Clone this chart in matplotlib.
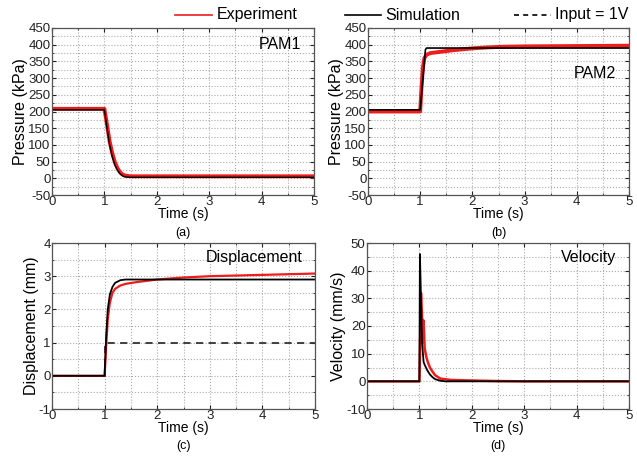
import matplotlib
matplotlib.use("Agg")
import matplotlib.pyplot as plt
import numpy as np
from matplotlib.lines import Line2D
from matplotlib.ticker import MultipleLocator

plt.rcParams['font.family'] = ['Liberation Sans', 'DejaVu Sans']
plt.rcParams['axes.unicode_minus'] = False

# ---- data ----
pam1_exp_t = [0, 1.0, 1.05, 1.1, 1.15, 1.2, 1.25, 1.3, 1.35, 1.4, 1.5, 2, 3, 4, 5]
pam1_exp_p = [208, 208, 160, 110, 75, 48, 30, 18, 11, 8, 6, 6, 6, 6, 6]
pam1_sim_t = [0, 1.0, 1.05, 1.1, 1.15, 1.2, 1.25, 1.3, 1.35, 1.4, 1.5, 2, 3, 4, 5]
pam1_sim_p = [205, 205, 150, 100, 65, 40, 24, 13, 7, 4, 3, 3, 3, 3, 3]

pam2_exp_t = [0, 1.0, 1.02, 1.05, 1.08, 1.12, 1.2, 1.4, 1.6, 1.8, 2.0, 2.3, 2.6, 3, 4, 5]
pam2_exp_p = [200, 200, 260, 330, 360, 370, 375, 379, 383, 386, 389, 392, 394, 395, 396, 397]
pam2_sim_t = [0, 1.0, 1.1, 1.12, 5]
pam2_sim_p = [205, 205, 385, 390, 390]

disp_exp_t = [0, 1.0, 1.03, 1.06, 1.1, 1.15, 1.2, 1.3, 1.4, 1.6, 1.8, 2.0, 2.5, 3, 4, 5]
disp_exp_x = [0, 0, 0.9, 1.7, 2.2, 2.5, 2.62, 2.72, 2.77, 2.82, 2.86, 2.9, 2.96, 3.0, 3.04, 3.08]
disp_sim_t = [0, 1.0, 1.03, 1.06, 1.1, 1.15, 1.2, 1.3, 1.4, 1.5, 2, 3, 4, 5]
disp_sim_x = [0, 0, 1.2, 2.0, 2.45, 2.68, 2.8, 2.88, 2.9, 2.9, 2.9, 2.9, 2.9, 2.9]
input_t = [0, 1.0, 1.0, 5]
input_x = [0, 0, 1, 1]

vel_exp_t = [0, 1.0, 1.02, 1.03, 1.05, 1.07, 1.08, 1.1, 1.13, 1.16, 1.2, 1.25, 1.3, 1.4, 1.6, 2.0, 2.5, 3, 5]
vel_exp_v = [0, 0, 20, 32, 24, 14, 22, 12, 9, 7, 5, 3.5, 2.2, 1.0, 0.5, 0.3, 0.1, 0, 0]
vel_sim_t = [0, 1.0, 1.01, 1.03, 1.05, 1.08, 1.1, 1.15, 1.2, 1.25, 1.3, 1.4, 1.5, 2, 5]
vel_sim_v = [0, 0, 46, 30, 14, 7, 6, 4, 2.5, 1.5, 0.8, 0.2, 0, 0, 0]

legend_labels = ['Experiment', 'Simulation', 'Input = 1V']

red = '#ee1c1c'
fig = plt.figure(figsize=(6.37, 4.57), dpi=100)
W, H = 637, 457

def make_ax(l, r, t, b):
    return fig.add_axes([l / W, 1 - b / H, (r - l) / W, (b - t) / H])

axes = [make_ax(52, 314, 28, 195), make_ax(368, 629, 28, 195),
        make_ax(52, 315, 243, 409), make_ax(367, 629, 243, 409)]

def style(ax, ylim, ymaj, ymin, ylabel, title, ty, sub):
    ax.set_xlim(0, 5)
    ax.set_ylim(*ylim)
    ax.xaxis.set_major_locator(MultipleLocator(1))
    ax.xaxis.set_minor_locator(MultipleLocator(0.5))
    ax.yaxis.set_major_locator(MultipleLocator(ymaj))
    ax.yaxis.set_minor_locator(MultipleLocator(ymin))
    ax.grid(True, which='both', linestyle=':', color='#aaaaaa', linewidth=0.8)
    ax.tick_params(which='both', direction='in', top=True, right=True,
                   labelsize=9.5, pad=1, colors='#222222')
    ax.tick_params(which='major', length=3)
    ax.tick_params(which='minor', length=1.5)
    for s in ax.spines.values():
        s.set_color('#555555')
        s.set_linewidth(0.9)
    ax.set_ylabel(ylabel, fontsize=11.5, labelpad=0)
    ax.set_xlabel('Time (s)', fontsize=10, labelpad=-1)
    ax.text(0.952, ty, title, transform=ax.transAxes, ha='right', va='center', fontsize=11.5)
    ax.text(0.5, -0.225, sub, transform=ax.transAxes, ha='center', va='center', fontsize=9)
    ax.set_axisbelow(True)

ax = axes[0]
ax.plot(pam1_exp_t, pam1_exp_p, color=red, lw=2.8)
ax.plot(pam1_sim_t, pam1_sim_p, color='black', lw=1.0)
style(ax, (-50, 450), 50, 25, 'Pressure (kPa)', 'PAM1', 0.90, '(a)')

ax = axes[1]
ax.plot(pam2_exp_t, pam2_exp_p, color=red, lw=2.8)
ax.plot(pam2_sim_t, pam2_sim_p, color='black', lw=1.2)
style(ax, (-50, 450), 50, 25, 'Pressure (kPa)', 'PAM2', 0.73, '(b)')

ax = axes[2]
ax.plot(input_t, input_x, color='#333333', lw=1.3, linestyle=(0, (4, 3)))
ax.plot(disp_exp_t, disp_exp_x, color=red, lw=1.6)
ax.plot(disp_sim_t, disp_sim_x, color='black', lw=1.3)
style(ax, (-1, 4), 1, 0.5, 'Displacement (mm)', 'Displacement', 0.91, '(c)')

ax = axes[3]
ax.plot(vel_exp_t, vel_exp_v, color=red, lw=1.8)
ax.plot(vel_sim_t, vel_sim_v, color='black', lw=1.3)
style(ax, (-10, 50), 10, 5, 'Velocity (mm/s)', 'Velocity', 0.91, '(d)')

# figure legend, drawn manually at reference positions (pixels)
legend_items = [((175, 212), 217, red, '-'),
                ((345, 381), 385, 'black', '-'),
                ((514, 551), 555, 'black', (0, (3, 2.5)))]
ly = 1 - 15 / H
for idx, ((x0, x1), tx, c, ls) in enumerate(legend_items):
    fig.add_artist(Line2D([x0 / W, x1 / W], [ly, ly], color=c, lw=1.2, linestyle=ls,
                          transform=fig.transFigure))
    fig.text(tx / W, ly, legend_labels[idx], ha='left', va='center', fontsize=11.5)

fig.savefig('out.png', dpi=100)
